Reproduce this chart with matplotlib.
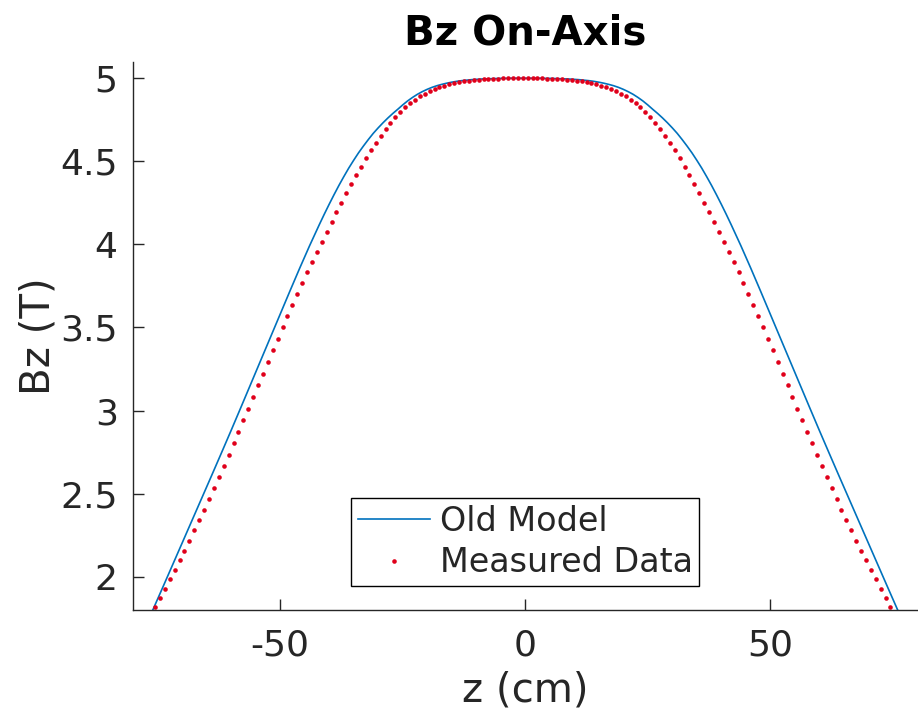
import numpy as np
import matplotlib
matplotlib.use("Agg")
import matplotlib.pyplot as plt

plt.rcParams["axes.unicode_minus"] = False

# old model, z in cm (finer grid near the top of the curve)
z_model = np.concatenate([np.arange(-80, -43, 2), np.arange(-42, 43, 1), np.arange(44, 81, 2)])
bz_model = [1.533, 1.665, 1.798, 1.932, 2.067, 2.202, 2.337, 2.472, 2.607, 2.743,
            2.880, 3.019, 3.159, 3.299, 3.439, 3.579, 3.719, 3.857, 3.991,
            4.119, 4.181, 4.241, 4.299, 4.355, 4.408, 4.459, 4.506, 4.551, 4.592,
            4.631, 4.668, 4.701, 4.732, 4.761, 4.788, 4.813, 4.839, 4.863, 4.884,
            4.903, 4.919, 4.933, 4.945, 4.955, 4.963, 4.970, 4.976, 4.981, 4.985,
            4.988, 4.991, 4.993, 4.995, 4.996, 4.997, 4.998, 4.999, 4.999, 5.000,
            5.000, 5.000,
            5.000,
            5.000, 5.000, 5.000, 4.999, 4.999, 4.998, 4.997, 4.996, 4.995, 4.993,
            4.991, 4.988, 4.985, 4.981, 4.976, 4.970, 4.963, 4.955, 4.945, 4.933,
            4.919, 4.903, 4.884, 4.863, 4.839, 4.813, 4.788, 4.761, 4.732, 4.701,
            4.668, 4.631, 4.592, 4.551, 4.506, 4.459, 4.408, 4.355, 4.299, 4.241,
            4.181, 4.119,
            3.991, 3.857, 3.719, 3.579, 3.439, 3.299, 3.159, 3.019, 2.880, 2.743,
            2.607, 2.472, 2.337, 2.202, 2.067, 1.932, 1.798, 1.665, 1.533]

# measured data, 1 cm steps
z_meas = np.arange(-76.5, 76.0, 1.0)
bz_meas = [1.766, 1.819, 1.873, 1.928, 1.984, 2.041, 2.099, 2.158, 2.218, 2.279,
           2.341, 2.404, 2.468, 2.533, 2.599, 2.666, 2.734, 2.803, 2.872, 2.942,
           3.012, 3.082, 3.152, 3.222, 3.292, 3.362, 3.432, 3.501, 3.569, 3.636,
           3.702, 3.767, 3.831, 3.894, 3.956, 4.017, 4.077, 4.136, 4.194, 4.251,
           4.307, 4.362, 4.415, 4.467, 4.517, 4.565, 4.611, 4.654, 4.694, 4.731,
           4.765, 4.796, 4.824, 4.849, 4.871, 4.890, 4.907, 4.922, 4.935, 4.946,
           4.955, 4.963, 4.970, 4.976, 4.981, 4.985, 4.988, 4.991, 4.993, 4.995,
           4.997, 4.998, 4.999, 4.999, 5.000, 5.000,
           5.000,
           5.000, 5.000, 4.999, 4.999, 4.998, 4.997,
           4.995, 4.993, 4.991, 4.988, 4.985, 4.981, 4.976, 4.970, 4.963, 4.955,
           4.946, 4.935, 4.922, 4.907, 4.890, 4.871, 4.849, 4.824, 4.796, 4.765,
           4.731, 4.694, 4.654, 4.611, 4.565, 4.517, 4.467, 4.415, 4.362, 4.307,
           4.251, 4.194, 4.136, 4.077, 4.017, 3.956, 3.894, 3.831, 3.767, 3.702,
           3.636, 3.569, 3.501, 3.432, 3.362, 3.292, 3.222, 3.152, 3.082, 3.012,
           2.942, 2.872, 2.803, 2.734, 2.666, 2.599, 2.533, 2.468, 2.404, 2.341,
           2.279, 2.218, 2.158, 2.099, 2.041, 1.984, 1.928, 1.873, 1.819, 1.766]

xticks = [-50, 0, 50]
yticks = [2, 2.5, 3, 3.5, 4, 4.5, 5]
ytick_labels = ["2", "2.5", "3", "3.5", "4", "4.5", "5"]

gray = "#262626"
fig = plt.figure(figsize=(9.18, 7.16), dpi=100)
ax = fig.add_axes([0.1449, 0.148, 0.8545, 0.766])

ax.plot(z_model, bz_model, color="#0072BD", lw=1.2, label="Old Model")
ax.plot(z_meas, bz_meas, ls="none", marker="o", ms=3.3, mec="none",
        color="#e0001b", label="Measured Data")

ax.set_xlim(-80, 80)
ax.set_ylim(1.8, 5.1)
ax.set_xticks(xticks)
ax.set_yticks(yticks)
ax.set_yticklabels(ytick_labels)

for s in ["top", "right"]:
    ax.spines[s].set_visible(False)
for s in ["left", "bottom"]:
    ax.spines[s].set_color(gray)
    ax.spines[s].set_linewidth(1.0)

ax.tick_params(axis="x", direction="in", length=8, width=1, colors=gray,
               labelsize=26, pad=13)
ax.tick_params(axis="y", direction="in", length=8, width=1, colors=gray,
               labelsize=26, pad=11)

ax.set_title("Bz On-Axis", fontsize=29, fontweight="bold", pad=12)
ax.set_xlabel("z (cm)", fontsize=29, color=gray, labelpad=6)
ax.set_ylabel("Bz (T)", fontsize=29, color=gray, labelpad=1)

leg = ax.legend(loc="lower center", bbox_to_anchor=(0.5, 0.044), borderaxespad=0,
                fontsize=24, frameon=True, fancybox=False, framealpha=1,
                edgecolor="black", handlelength=2.15, handletextpad=0.3,
                labelspacing=0.25, borderpad=0.2, markerscale=1.0)
leg.get_frame().set_linewidth(1.0)
for t in leg.get_texts():
    t.set_color(gray)

fig.savefig("out.png", dpi=100)
